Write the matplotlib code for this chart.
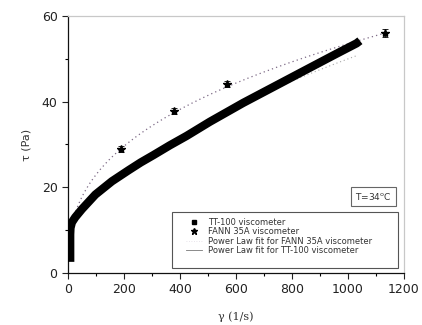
import numpy as np
import matplotlib
matplotlib.use("Agg")
import matplotlib.pyplot as plt
from matplotlib.lines import Line2D
from matplotlib.patches import Rectangle

# TT-100 viscometer measurements (shear rate 1/s, shear stress Pa)
gamma_tt = [8, 8, 8, 9, 14, 26, 50, 98, 157, 217, 260, 305, 364, 424, 507,
            626, 745, 864, 960, 1031, 1043]
tau_tt = [2.6, 6.0, 9.0, 10.5, 11.8, 13.0, 14.9, 18.3, 21.4, 24.0, 25.8, 27.5,
          29.8, 32.0, 35.3, 39.7, 43.8, 47.9, 51.2, 53.6, 54.2]

# FANN 35A viscometer readings
gamma_fann = [189, 379, 567, 1132]
tau_fann = [29.0, 37.8, 44.1, 56.0]
err_fann = [0.7, 0.8, 0.7, 0.9]

# Power law parameters tau = K * gamma^n
K_fann, n_fann = 4.21, 0.368
K_tt, n_tt = 1.693, 0.49

x_ticks = [0, 200, 400, 600, 800, 1000, 1200]
y_ticks = [0, 20, 40, 60]

plt.rcParams['font.family'] = ['DejaVu Sans']

fig = plt.figure(figsize=(4.22, 3.25), dpi=100)
ax = fig.add_axes([0.161, 0.160, 0.796, 0.791])

g_fit_f = np.linspace(12, 1132, 300)
ax.plot(g_fit_f, K_fann * g_fit_f ** n_fann, linestyle=(0, (1, 2.5)),
        color='#7d6a86', lw=0.9, zorder=2)
g_fit_t = np.linspace(180, 1030, 300)
ax.plot(g_fit_t, K_tt * g_fit_t ** n_tt, linestyle=(0, (1, 2.5)),
        color='#a8a8a8', lw=0.8, zorder=1)

# dense TT-100 record drawn as one thick band
ax.plot(gamma_tt, tau_tt, color='black', lw=6, solid_joinstyle='round',
        solid_capstyle='butt', zorder=3)

ax.errorbar(gamma_fann, tau_fann, yerr=err_fann, fmt='*', color='black',
            ms=6, elinewidth=0.6, capsize=2.5, capthick=0.6, zorder=4)

ax.set_xlim(0, 1200)
ax.set_ylim(0, 60)
ax.set_xticks(x_ticks)
ax.set_yticks(y_ticks)
ax.set_xticks([100, 300, 500, 700, 900, 1100], minor=True)
ax.set_yticks([10, 30, 50], minor=True)
ax.tick_params(which='major', direction='out', length=4, width=0.8,
               labelsize=9, pad=3.5, colors='#222222')
ax.tick_params(which='minor', direction='out', length=2, width=0.8)
for s in ['left', 'bottom']:
    ax.spines[s].set_color('#111111')
    ax.spines[s].set_linewidth(0.9)
for s in ['top', 'right']:
    ax.spines[s].set_color('#c8c8c8')
    ax.spines[s].set_linewidth(0.9)

ax.set_xlabel('γ (1/s)', fontsize=8, family=['DejaVu Serif'],
              labelpad=11, color='#333333')
ax.set_ylabel('τ (Pa)', fontsize=8, labelpad=7, color='#333333')

# legend frame spanning down to the x axis
ax.add_patch(Rectangle((0.310, 0.02), 0.672, 0.217, transform=ax.transAxes,
                       fill=True, fc='white', ec='#555555', lw=0.8, zorder=5))

handles = [
    Line2D([], [], color='black', marker='s', ms=3.5, linestyle='none'),
    Line2D([], [], color='black', marker='*', ms=4.5, linestyle='none'),
    Line2D([], [], color='#e0dae4', linestyle=(0, (1, 2)), lw=0.6),
    Line2D([], [], color='#777777', linestyle='-', lw=0.6),
]
labels = ['TT-100 viscometer', 'FANN 35A viscometer',
          'Power Law fit for FANN 35A viscometer',
          'Power Law fit for TT-100 viscometer']
leg = ax.legend(handles, labels, loc='upper left',
                bbox_to_anchor=(0.350, 0.214), fontsize=6.0, frameon=False,
                borderpad=0, labelspacing=0.05, handlelength=2.0,
                handletextpad=0.7, borderaxespad=0)
leg.set_zorder(6)
for t in leg.get_texts():
    t.set_color('#333333')

ax.text(0.909, 0.298, 'T=34$^\\mathregular{o}$C', transform=ax.transAxes,
        ha='center', va='center', fontsize=6.5, color='#333333',
        bbox=dict(boxstyle='square,pad=0.45', fc='white', ec='#666666', lw=0.8))

fig.savefig('out.png', dpi=100)
